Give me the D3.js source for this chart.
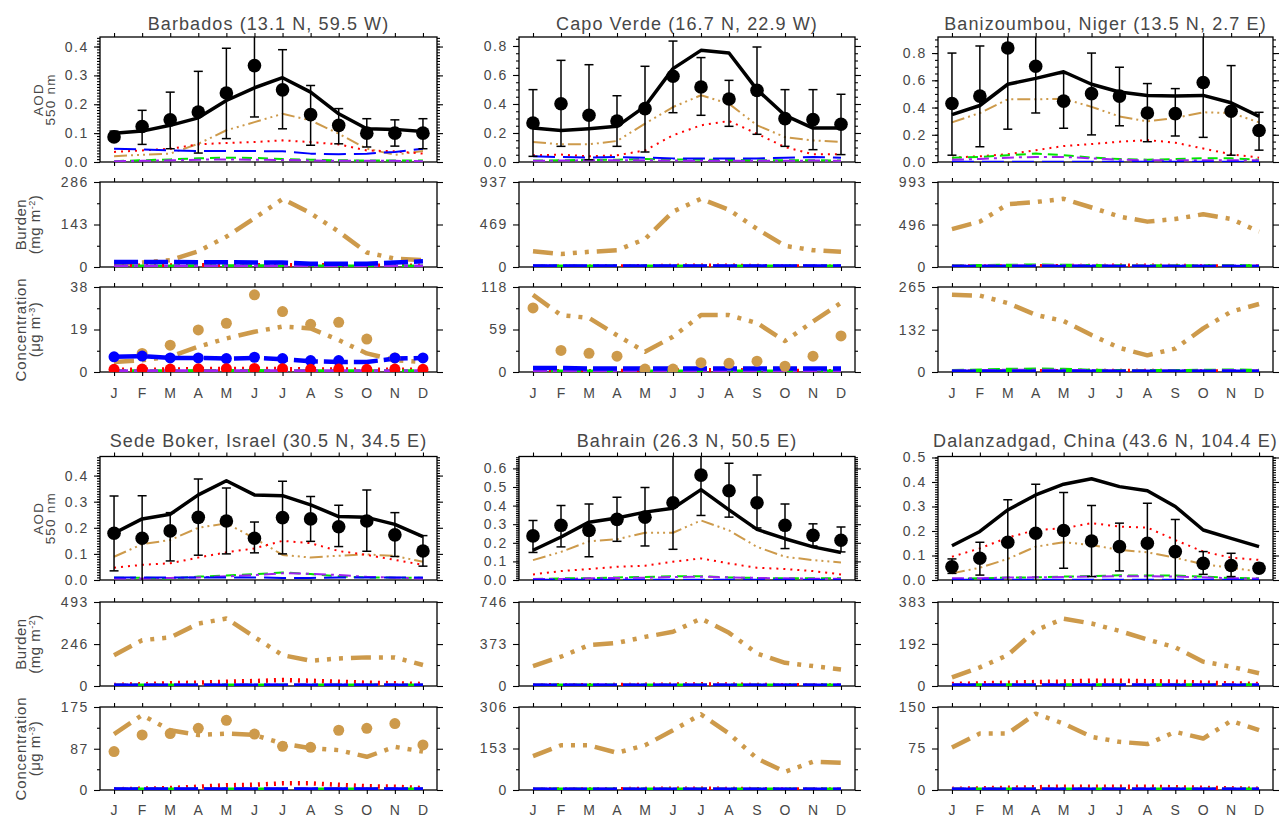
<!DOCTYPE html>
<html>
<head>
<meta charset="utf-8">
<script src="https://cdn.jsdelivr.net/npm/d3@7"></script>
<style>
body { margin: 0; background: #fff; }
text { font-family: "Liberation Sans", Arial, sans-serif; fill: #474747; }
</style>
</head>
<body>
<script>
// ---- data ----
const months = ["J","F","M","A","M","J","J","A","S","O","N","D"];
const siteTitles = ["Barbados (13.1 N, 59.5 W)", "Capo Verde (16.7 N, 22.9 W)", "Banizoumbou, Niger (13.5 N, 2.7 E)",
                    "Sede Boker, Israel (30.5 N, 34.5 E)", "Bahrain (26.3 N, 50.5 E)", "Dalanzadgad, China (43.6 N, 104.4 E)"];
const aodTop = [0.433, 0.862, 0.918, 0.473, 0.664, 0.504];
const aodTicks = [[0,0.1,0.2,0.3,0.4],[0,0.2,0.4,0.6,0.8],[0,0.2,0.4,0.6,0.8],[0,0.1,0.2,0.3,0.4],[0,0.1,0.2,0.3,0.4,0.5,0.6],[0,0.1,0.2,0.3,0.4,0.5]];
const burdenTicks = [[0,143,286],[0,469,937],[0,496,993],[0,246,493],[0,373,746],[0,192,383]];
const concTicks = [[0,19,38],[0,59,118],[0,132,265],[0,87,175],[0,153,306],[0,75,150]];

// Barbados
const bbAodObs = [0.087,0.123,0.146,0.173,0.239,0.334,0.250,0.164,0.127,0.100,0.100,0.100];
const bbAodHi = [0.107,0.179,0.242,0.314,0.394,0.500,0.389,0.265,0.185,0.150,0.146,0.150];
const bbAodLo = [0.075,0.061,0.046,0.031,0.081,0.156,0.115,0.058,0.063,0.052,0.055,0.046];
const bbAodModel = [0.100,0.107,0.127,0.153,0.213,0.257,0.292,0.242,0.167,0.115,0.113,0.106];
const bbAodDust = [0.020,0.025,0.029,0.063,0.110,0.138,0.167,0.144,0.098,0.046,0.025,0.038];
const bbAodSulf = [0.035,0.040,0.046,0.061,0.066,0.069,0.075,0.069,0.061,0.040,0.037,0.029];
const bbAodSalt = [0.046,0.044,0.040,0.038,0.038,0.038,0.037,0.029,0.027,0.029,0.035,0.046];
const bbAodBc = [0.003,0.006,0.009,0.013,0.015,0.014,0.010,0.008,0.006,0.005,0.005,0.005];
const bbAodOc = [0.003,0.004,0.006,0.008,0.009,0.008,0.007,0.005,0.004,0.004,0.004,0.003];
const bbBurDust = [8,15,23,53,102,164,229,181,119,49,28,23];
const bbBurSulf = [4,4,5,6,6,6,6,6,5,4,4,4];
const bbBurSalt = [17,17,17,16,16,15,15,11,11,11,15,19];
const bbBurBc = [1,1,1,2,2,2,1,1,1,1,1,1];
const bbBurOc = [1,1,1,1,1,1,1,1,1,1,1,1];
const bbConDust = [4.5,5.3,6.8,11.3,15,18,20.3,19.5,14.3,8.3,5.3,4.5];
const bbConSulf = [1.0,1.0,1.1,1.3,1.3,1.3,1.3,1.2,1.1,1.0,1.0,1.0];
const bbConSalt = [6.8,7.1,6.3,6.3,6.0,6.3,5.7,4.8,4.5,4.5,6.0,6.3];
const bbConBc = [0.2,0.2,0.2,0.3,0.3,0.3,0.2,0.2,0.2,0.2,0.2,0.2];
const bbConOc = [0.2,0.2,0.2,0.2,0.2,0.2,0.2,0.2,0.2,0.2,0.2,0.2];
const bbConDustObs = [null,8.3,12,18.8,21.8,34.5,27,21.3,22.2,14.7,6.3,null];
const bbConSaltObs = [6.8,7.1,6.3,6.3,6.0,6.6,6.0,5.1,5.1,null,6.3,6.3];
const bbConSulfObs = [1.2,1.3,1.3,1.4,1.5,1.6,1.5,1.2,1.3,1.2,1.3,1.2];

// Capo Verde
const cvAodObs = [0.269,0.402,0.322,0.283,0.368,0.591,0.517,0.434,0.494,0.299,0.292,0.260];
const cvAodHi = [0.499,0.701,0.671,0.457,0.660,0.834,0.720,0.563,0.793,0.499,0.499,0.467];
const cvAodLo = [0.039,0.108,0.016,0.108,0.069,0.340,0.322,0.246,0.191,0.108,0.085,0.051];
const cvAodModel = [0.234,0.218,0.230,0.246,0.384,0.644,0.770,0.752,0.499,0.322,0.234,0.234];
const cvAodDust = [0.138,0.122,0.122,0.145,0.264,0.379,0.460,0.402,0.253,0.172,0.149,0.138];
const cvAodSulf = [0.046,0.051,0.039,0.046,0.080,0.184,0.253,0.283,0.195,0.103,0.053,0.053];
const cvAodSalt = [0.039,0.034,0.030,0.034,0.030,0.025,0.025,0.025,0.025,0.030,0.034,0.030];
const cvAodBc = [0.010,0.012,0.014,0.016,0.020,0.018,0.016,0.014,0.012,0.012,0.012,0.010];
const cvAodOc = [0.008,0.010,0.012,0.012,0.012,0.010,0.008,0.008,0.008,0.008,0.010,0.008];
const cvBurDust = [174,144,167,185,307,611,752,630,419,233,185,167];
const cvBurSulf = [4,4,4,5,8,12,14,14,10,6,4,4];
const cvBurSalt = [6,6,6,6,6,6,6,6,6,6,6,6];
const cvBurBc = [2,2,2,3,3,3,2,2,2,2,2,2];
const cvBurOc = [2,2,2,2,2,2,2,2,2,2,2,2];
const cvConDust = [107,79,75,51,28,49,79,79,68,43,70,96];
const cvConSulf = [1,1,1,1.2,1.5,2,2.5,2.5,2,1.5,1,1];
const cvConSalt = [5.6,5.6,4.7,4.7,4.7,4.7,4.7,4.7,4.7,4.7,4.7,4.7];
const cvConBc = [0.4,0.4,0.4,0.5,0.5,0.5,0.4,0.4,0.4,0.4,0.4,0.4];
const cvConOc = [0.4,0.4,0.4,0.4,0.4,0.4,0.4,0.4,0.4,0.4,0.4,0.4];
const cvConDustObs = [89,30,26,22,4,4,13,12,15,8,22,50];

// Banizoumbou
const bzAodObs = [0.430,0.484,0.837,0.703,0.447,0.502,0.484,0.360,0.355,0.584,0.373,0.231];
const bzAodHi = [0.800,0.852,1.000,1.000,0.650,0.800,0.696,0.576,0.539,1.000,0.708,0.365];
const bzAodLo = [0.050,0.112,0.241,0.360,0.248,0.199,0.266,0.149,0.191,0.181,0.050,0.087];
const bzAodModel = [0.348,0.415,0.571,0.614,0.663,0.571,0.514,0.489,0.484,0.489,0.435,0.335];
const bzAodDust = [0.291,0.360,0.460,0.460,0.465,0.405,0.335,0.298,0.323,0.365,0.360,0.291];
const bzAodSulf = [0.032,0.042,0.057,0.087,0.117,0.132,0.149,0.161,0.142,0.099,0.057,0.032];
const bzAodSalt = [0.002,0.002,0.002,0.002,0.002,0.002,0.002,0.002,0.002,0.002,0.002,0.002];
const bzAodBc = [0.032,0.037,0.050,0.062,0.050,0.032,0.022,0.017,0.022,0.027,0.027,0.017];
const bzAodOc = [0.017,0.022,0.032,0.037,0.037,0.027,0.017,0.012,0.012,0.012,0.012,0.012];
const bzBurDust = [443,530,734,758,797,695,589,530,561,616,561,412];
const bzBurSulf = [5,5,6,8,10,12,14,14,12,8,6,5];
const bzBurSalt = [1,1,1,1,1,1,1,1,1,1,1,1];
const bzBurBc = [5,8,12,14,12,8,6,5,5,6,8,6];
const bzBurOc = [3,4,6,7,6,5,4,3,3,4,4,3];
const bzConDust = [241,238,215,178,159,115,75,52,73,136,188,212];
const bzConSulf = [1,1,1.5,2,2.5,3,3,3,2.5,2,1.5,1];
const bzConSalt = [0.5,0.5,0.5,0.5,0.5,0.5,0.5,0.5,0.5,0.5,0.5,0.5];
const bzConBc = [2,4,6,7,6,3,2,2,2,3,4,3];
const bzConOc = [1,2,3,3,3,2,1,1,1,1,2,1];

// Sede Boker
const sbAodObs = [0.179,0.160,0.188,0.240,0.226,0.160,0.239,0.234,0.204,0.226,0.173,0.111];
const sbAodHi = [0.322,0.323,0.258,0.387,0.352,0.222,0.378,0.320,0.286,0.345,0.258,0.170];
const sbAodLo = [0.035,-0.010,0.073,0.095,0.100,0.104,0.100,0.148,0.128,0.110,0.090,0.053];
const sbAodModel = [0.179,0.234,0.252,0.326,0.380,0.326,0.323,0.288,0.243,0.240,0.213,0.166];
const sbAodDust = [0.089,0.137,0.153,0.200,0.217,0.160,0.096,0.086,0.093,0.098,0.092,0.070];
const sbAodSulf = [0.047,0.058,0.064,0.086,0.106,0.121,0.150,0.141,0.111,0.096,0.077,0.058];
const sbAodSalt = [0.010,0.010,0.010,0.010,0.010,0.010,0.008,0.008,0.010,0.010,0.010,0.010];
const sbAodBc = [0.009,0.009,0.006,0.013,0.017,0.022,0.029,0.023,0.014,0.010,0.009,0.008];
const sbAodOc = [0.006,0.006,0.008,0.010,0.014,0.019,0.026,0.024,0.019,0.012,0.009,0.006];
const sbBurDust = [181,269,285,366,396,288,181,148,162,168,168,123];
const sbBurSulf = [6,10,16,20,25,29,35,31,25,19,16,12];
const sbBurSalt = [2,2,2,2,2,2,2,2,2,2,2,2];
const sbBurBc = [1,1,1,1,1,1,1,1,1,1,1,1];
const sbBurOc = [1,1,1,1,1,1,1,1,1,1,1,1];
const sbConDust = [118,158,126,116,119,116,98,88,84,70,91,81];
const sbConSulf = [1.4,2.8,4,7,10,11,14,14,11,8,7,4];
const sbConSalt = [1,1,1,1,1,1,1,1,1,1,1,1];
const sbConBc = [0.5,0.5,0.5,0.5,0.5,0.5,0.5,0.5,0.5,0.5,0.5,0.5];
const sbConOc = [0.5,0.5,0.5,0.5,0.5,0.5,0.5,0.5,0.5,0.5,0.5,0.5];
const sbConDustObs = [81,116,119,130,147,118,92,90,126,130,140,95];

// Bahrain
const bhAodObs = [0.237,0.294,0.267,0.326,0.338,0.415,0.564,0.480,0.415,0.294,0.240,0.214];
const bhAodHi = [0.320,0.400,0.409,0.445,0.498,0.700,0.700,0.628,0.564,0.409,0.302,0.285];
const bhAodLo = [0.148,0.178,0.125,0.208,0.183,0.165,0.347,0.338,0.280,0.169,0.183,0.151];
const bhAodModel = [0.160,0.231,0.311,0.333,0.365,0.386,0.486,0.377,0.272,0.222,0.178,0.148];
const bhAodDust = [0.107,0.151,0.208,0.219,0.254,0.254,0.320,0.267,0.178,0.125,0.107,0.094];
const bhAodSulf = [0.030,0.048,0.059,0.071,0.077,0.098,0.116,0.089,0.066,0.059,0.048,0.030];
const bhAodSalt = [0.002,0.002,0.002,0.002,0.002,0.002,0.002,0.002,0.002,0.002,0.002,0.002];
const bhAodBc = [0.005,0.009,0.009,0.014,0.016,0.020,0.020,0.014,0.011,0.009,0.009,0.009];
const bhAodOc = [0.005,0.005,0.009,0.011,0.012,0.016,0.018,0.014,0.011,0.009,0.007,0.007];
const bhBurDust = [177,260,363,383,436,481,599,472,289,206,177,147];
const bhBurSulf = [5,6,7,8,10,12,15,12,9,7,6,5];
const bhBurSalt = [2,2,2,2,2,2,2,2,2,2,2,2];
const bhBurBc = [2,2,2,2,2,2,2,2,2,2,2,2];
const bhBurOc = [2,2,2,2,2,2,2,2,2,2,2,2];
const bhConDust = [125,165,165,137,165,220,279,208,116,67,104,100];
const bhConSulf = [1,2,2,3,4,5,5,4,3,2,2,1];
const bhConSalt = [1,1,1,1,1,1,1,1,1,1,1,1];
const bhConBc = [1,1,1,1,1,1,1,1,1,1,1,1];
const bhConOc = [1,1,1,1,1,1,1,1,1,1,1,1];

// Dalanzadgad
const dzAodObs = [0.054,0.089,0.154,0.191,0.202,0.159,0.136,0.150,0.116,0.068,0.059,0.048];
const dzAodHi = [0.086,0.154,0.327,0.391,0.357,0.304,0.232,0.313,0.247,0.116,0.109,0.068];
const dzAodLo = [0.027,0.020,-0.010,-0.010,0.048,0.014,0.037,-0.010,-0.010,0.023,0.014,0.031];
const dzAodModel = [0.140,0.198,0.286,0.347,0.391,0.413,0.381,0.364,0.300,0.204,0.170,0.136];
const dzAodDust = [0.027,0.050,0.086,0.136,0.154,0.143,0.123,0.113,0.091,0.064,0.050,0.034];
const dzAodSulf = [0.095,0.129,0.173,0.204,0.211,0.232,0.218,0.214,0.163,0.116,0.091,0.082];
const dzAodSalt = [0.001,0.001,0.001,0.001,0.001,0.001,0.001,0.001,0.001,0.001,0.001,0.001];
const dzAodBc = [0.004,0.007,0.010,0.011,0.014,0.016,0.019,0.018,0.018,0.014,0.008,0.007];
const dzAodOc = [0.007,0.007,0.010,0.011,0.012,0.014,0.015,0.015,0.014,0.011,0.007,0.006];
const dzBurDust = [39,85,141,254,307,285,251,212,176,111,88,58];
const dzBurSulf = [9,12,15,18,20,24,24,22,20,15,12,9];
const dzBurSalt = [1,1,1,1,1,1,1,1,1,1,1,1];
const dzBurBc = [2,2,2,2,2,2,2,2,2,2,2,2];
const dzBurOc = [2,2,2,2,2,2,2,2,2,2,2,2];
const dzConDust = [77,102,102,138,120,96,87,83,105,93,125,108];
const dzConSulf = [2,3,4,5,6,6,6,6,5,4,3,2];
const dzConSalt = [0.5,0.5,0.5,0.5,0.5,0.5,0.5,0.5,0.5,0.5,0.5,0.5];
const dzConBc = [0.5,0.5,0.5,0.5,0.5,0.5,0.5,0.5,0.5,0.5,0.5,0.5];
const dzConOc = [0.5,0.5,0.5,0.5,0.5,0.5,0.5,0.5,0.5,0.5,0.5,0.5];

// table built from the arrays above
const sites = [
  {aod:{obs:bbAodObs,hi:bbAodHi,lo:bbAodLo,model:bbAodModel,dust:bbAodDust,sulf:bbAodSulf,salt:bbAodSalt,bc:bbAodBc,oc:bbAodOc},
   bur:{dust:bbBurDust,sulf:bbBurSulf,salt:bbBurSalt,bc:bbBurBc,oc:bbBurOc},
   con:{dust:bbConDust,sulf:bbConSulf,salt:bbConSalt,bc:bbConBc,oc:bbConOc},
   obs:{dust:bbConDustObs,salt:bbConSaltObs,sulf:bbConSulfObs}},
  {aod:{obs:cvAodObs,hi:cvAodHi,lo:cvAodLo,model:cvAodModel,dust:cvAodDust,sulf:cvAodSulf,salt:cvAodSalt,bc:cvAodBc,oc:cvAodOc},
   bur:{dust:cvBurDust,sulf:cvBurSulf,salt:cvBurSalt,bc:cvBurBc,oc:cvBurOc},
   con:{dust:cvConDust,sulf:cvConSulf,salt:cvConSalt,bc:cvConBc,oc:cvConOc},
   obs:{dust:cvConDustObs}},
  {aod:{obs:bzAodObs,hi:bzAodHi,lo:bzAodLo,model:bzAodModel,dust:bzAodDust,sulf:bzAodSulf,salt:bzAodSalt,bc:bzAodBc,oc:bzAodOc},
   bur:{dust:bzBurDust,sulf:bzBurSulf,salt:bzBurSalt,bc:bzBurBc,oc:bzBurOc},
   con:{dust:bzConDust,sulf:bzConSulf,salt:bzConSalt,bc:bzConBc,oc:bzConOc},
   obs:{}},
  {aod:{obs:sbAodObs,hi:sbAodHi,lo:sbAodLo,model:sbAodModel,dust:sbAodDust,sulf:sbAodSulf,salt:sbAodSalt,bc:sbAodBc,oc:sbAodOc},
   bur:{dust:sbBurDust,sulf:sbBurSulf,salt:sbBurSalt,bc:sbBurBc,oc:sbBurOc},
   con:{dust:sbConDust,sulf:sbConSulf,salt:sbConSalt,bc:sbConBc,oc:sbConOc},
   obs:{dust:sbConDustObs}},
  {aod:{obs:bhAodObs,hi:bhAodHi,lo:bhAodLo,model:bhAodModel,dust:bhAodDust,sulf:bhAodSulf,salt:bhAodSalt,bc:bhAodBc,oc:bhAodOc},
   bur:{dust:bhBurDust,sulf:bhBurSulf,salt:bhBurSalt,bc:bhBurBc,oc:bhBurOc},
   con:{dust:bhConDust,sulf:bhConSulf,salt:bhConSalt,bc:bhConBc,oc:bhConOc},
   obs:{}},
  {aod:{obs:dzAodObs,hi:dzAodHi,lo:dzAodLo,model:dzAodModel,dust:dzAodDust,sulf:dzAodSulf,salt:dzAodSalt,bc:dzAodBc,oc:dzAodOc},
   bur:{dust:dzBurDust,sulf:dzBurSulf,salt:dzBurSalt,bc:dzBurBc,oc:dzBurOc},
   con:{dust:dzConDust,sulf:dzConSulf,salt:dzConSalt,bc:dzConBc,oc:dzConOc},
   obs:{}}
];

// ---- layout ----
const colX = [[100,437],[519,855],[938,1273]];
const rows = [
  {aod:[37,162], bur:[182,267], con:[287,372], title:30, month:398},
  {aod:[456.5,580], bur:[602,686], con:[707,790], title:447, month:815}
];
const species = ["dust","sulf","bc","oc","salt"];
const colors = {dust:"#cd9a4b", sulf:"#ff0000", salt:"#0000ff", bc:"#00e400", oc:"#a020f0"};
const thinDash = {dust:"13,4,2,4,2,4,2,4", sulf:"2,5", salt:"22,8", bc:"10,6", oc:"12,5,3,5"};
const thickDash = {dust:"20,8,4,8,4,8,4,8", sulf:"2,6", salt:"24,6", bc:"12,6", oc:"14,6,4,6"};

const svg = d3.select("body").append("svg").attr("width",1281).attr("height",818);
let clipId = 0;

function panel(x0, x1, y0, y1, yMax, ticks, minor, fmt) {
  const x = d3.scaleLinear().domain([0.5,12.5]).range([x0,x1]);
  const y = d3.scaleLinear().domain([0,yMax]).range([y1,y0]);
  const g = svg.append("g");
  const id = "clip" + (clipId++);
  svg.append("clipPath").attr("id",id).append("rect")
    .attr("x",x0).attr("y",y0).attr("width",x1-x0).attr("height",y1-y0);

  const mt = d3.range(1,13);
  g.append("g").attr("transform","translate(0,"+y1+")")
    .call(d3.axisBottom(x).tickValues(mt).tickSize(4).tickSizeOuter(0).tickFormat(""));
  g.append("g").attr("transform","translate(0,"+y0+")")
    .call(d3.axisTop(x).tickValues(mt).tickSize(4).tickSizeOuter(0).tickFormat(""));
  g.append("g").attr("transform","translate("+x0+",0)")
    .call(d3.axisLeft(y).tickValues(minor).tickSize(3).tickSizeOuter(0).tickFormat(""));
  g.append("g").attr("transform","translate("+x1+",0)")
    .call(d3.axisRight(y).tickValues(minor).tickSize(3).tickSizeOuter(0).tickFormat(""));
  g.append("g").attr("transform","translate("+x1+",0)")
    .call(d3.axisRight(y).tickValues(ticks).tickSize(6).tickSizeOuter(0).tickFormat(""));
  g.append("g").attr("class","ylab").attr("transform","translate("+x0+",0)")
    .call(d3.axisLeft(y).tickValues(ticks).tickSize(6).tickPadding(5).tickSizeOuter(0).tickFormat(fmt));
  g.selectAll(".domain").remove();
  g.selectAll(".tick line").attr("stroke","#000").attr("stroke-width",1.1);
  g.selectAll(".ylab text").attr("font-size",14).attr("letter-spacing","1.6px")
    .attr("font-family","Liberation Sans, Arial, sans-serif").attr("fill","#474747");
  g.append("rect").attr("x",x0).attr("y",y0).attr("width",x1-x0).attr("height",y1-y0)
    .attr("fill","none").attr("stroke","#000").attr("stroke-width",1.3);

  const plot = svg.append("g").attr("clip-path","url(#"+id+")");
  return {x, y, plot};
}

function drawLine(p, vals, color, width, dash) {
  const line = d3.line().defined(d => d != null).x((d,i) => p.x(i+1)).y(d => p.y(d));
  p.plot.append("path").datum(vals).attr("d", line).attr("fill","none")
    .attr("stroke",color).attr("stroke-width",width)
    .attr("stroke-dasharray",dash).attr("stroke-linejoin","round");
}

function drawDots(p, vals, color, r) {
  p.plot.selectAll(null).data(vals.map((v,i) => ({v, m:i+1})).filter(d => d.v != null))
    .enter().append("circle")
    .attr("cx", d => p.x(d.m)).attr("cy", d => p.y(d.v)).attr("r", r).attr("fill", color);
}

sites.forEach((s, k) => {
  const [x0, x1] = colX[k % 3];
  const row = rows[Math.floor(k / 3)];

  svg.append("text").attr("x",(x0+x1)/2).attr("y",row.title).attr("text-anchor","middle")
    .attr("font-size",18).attr("letter-spacing","1.1px").text(siteTitles[k]);

  // AOD panel
  const at = aodTicks[k];
  const aStep = at[1] - at[0];
  const aMinor = d3.range(0, aodTop[k] + 1e-9, aStep > 0.15 ? 0.05 : 0.01);
  const pa = panel(x0, x1, row.aod[0], row.aod[1], aodTop[k], at, aMinor, d3.format(".1f"));
  species.forEach(sp => drawLine(pa, s.aod[sp], colors[sp], 2, thinDash[sp]));
  drawLine(pa, s.aod.model, "#000", 3.5, null);
  // observed with error bars
  s.aod.obs.forEach((v, i) => {
    const cx = pa.x(i+1), yh = pa.y(s.aod.hi[i]), yl = pa.y(s.aod.lo[i]);
    pa.plot.append("line").attr("x1",cx).attr("x2",cx).attr("y1",yh).attr("y2",yl)
      .attr("stroke","#000").attr("stroke-width",1.5);
    [yh, yl].forEach(yy => pa.plot.append("line").attr("x1",cx-4.5).attr("x2",cx+4.5)
      .attr("y1",yy).attr("y2",yy).attr("stroke","#000").attr("stroke-width",1.5));
  });
  drawDots(pa, s.aod.obs, "#000", 6.8);

  // Burden panel
  const bt = burdenTicks[k];
  const pb = panel(x0, x1, row.bur[0], row.bur[1], bt[2], bt, [bt[2]/4, bt[2]*3/4], d => d);
  species.forEach(sp => drawLine(pb, s.bur[sp], colors[sp], 4.5, thickDash[sp]));

  // Concentration panel
  const ct = concTicks[k];
  const pc = panel(x0, x1, row.con[0], row.con[1], ct[2], ct, [ct[2]/4, ct[2]*3/4], d => d);
  species.forEach(sp => drawLine(pc, s.con[sp], colors[sp], 4.5, thickDash[sp]));
  if (s.obs.dust) drawDots(pc, s.obs.dust, colors.dust, 5.5);
  if (s.obs.salt) drawDots(pc, s.obs.salt, colors.salt, 5.5);
  if (s.obs.sulf) drawDots(pc, s.obs.sulf, colors.sulf, 5.5);

  months.forEach((m, i) => {
    svg.append("text").attr("x", pc.x(i+1)).attr("y", row.month).attr("text-anchor","middle")
      .attr("font-size",14).text(m);
  });

  // y titles on left column
  if (k % 3 === 0) {
    const ya = (row.aod[0]+row.aod[1])/2, yb = (row.bur[0]+row.bur[1])/2, yc = (row.con[0]+row.con[1])/2;
    const vt = (x, y, size, ls, parts) => {
      const t = svg.append("text").attr("transform","translate("+x+","+y+") rotate(-90)")
        .attr("text-anchor","middle").attr("font-size",size).attr("letter-spacing",ls+"px");
      parts.forEach(p => {
        const ts = t.append("tspan").text(p[0]);
        if (p[1]) ts.attr("font-size",size*0.6).attr("baseline-shift","super");
      });
    };
    vt(43, ya, 13.5, 1.2, [["AOD"]]);
    vt(55, ya, 13.5, 1.2, [["550 nm"]]);
    vt(26, yb, 15, 0.5, [["Burden"]]);
    vt(40, yb, 15, 0.5, [["(mg m"],["-2",true],[")"]]);
    vt(26, yc, 15, 0.8, [["Concentration"]]);
    vt(40, yc, 15, 0.5, [["(\u03bcg m"],["-3",true],[")"]]);
  }
});
</script>
</body>
</html>
